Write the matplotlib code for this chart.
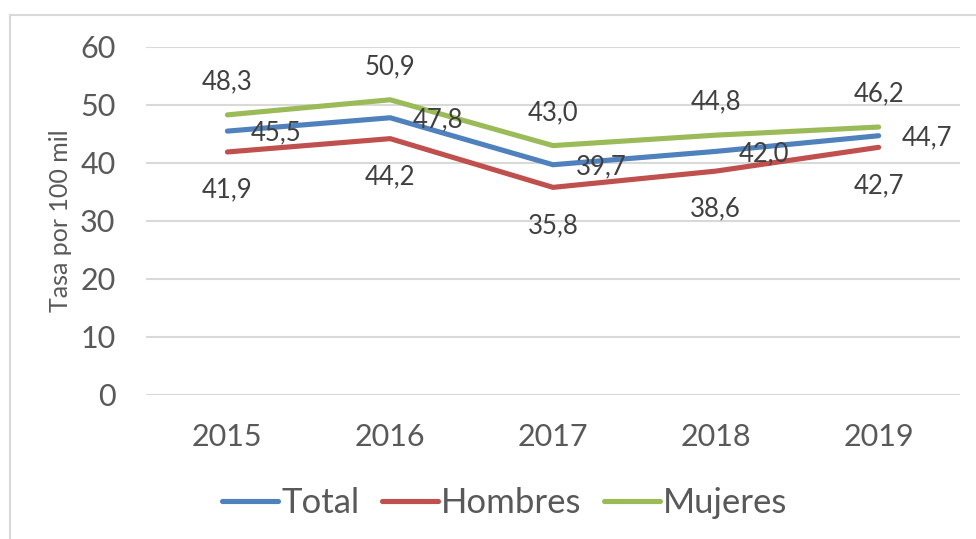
import matplotlib
matplotlib.use("Agg")
import matplotlib.pyplot as plt
from matplotlib.lines import Line2D

years = ["2015", "2016", "2017", "2018", "2019"]
total = [45.5, 47.8, 39.7, 42.0, 44.7]
hombres = [41.9, 44.2, 35.8, 38.6, 42.7]
mujeres = [48.3, 50.9, 43.0, 44.8, 46.2]
y_ticks = [0, 10, 20, 30, 40, 50, 60]

plt.rcParams["font.family"] = ["Lato", "DejaVu Sans"]
text_col = "#595959"
label_col = "#404040"
grid_col = "#D9D9D9"

W, H = 976, 539
fig = plt.figure(figsize=(W / 100, H / 100), dpi=100)

# chart border (only left and top edges visible in the crop)
fig.add_artist(Line2D([10 / W, 10 / W], [0, 1 - 15 / H], transform=fig.transFigure,
                      color=grid_col, lw=1.5))
fig.add_artist(Line2D([10 / W, 1], [1 - 15 / H, 1 - 15 / H], transform=fig.transFigure,
                      color=grid_col, lw=1.5))

ax = fig.add_axes([146 / W, 144 / H, 814 / W, 348 / H])
x = list(range(len(years)))

series = [
    ("Total", total, "#4F81BD", "right"),
    ("Hombres", hombres, "#C0504D", "below"),
    ("Mujeres", mujeres, "#9BBB59", "above"),
]
for name, vals, col, pos in series:
    ax.plot(x, vals, color=col, lw=3.7, solid_capstyle="round",
            solid_joinstyle="round", label=name, zorder=3)
    for xi, v in zip(x, vals):
        txt = f"{v:.1f}".replace(".", ",")
        if pos == "right":
            ax.annotate(txt, (xi, v), xytext=(23, -2), textcoords="offset pixels",
                        ha="left", va="center", fontsize=18.5, color=label_col, zorder=4)
        elif pos == "above":
            ax.annotate(txt, (xi, v), xytext=(0, 33), textcoords="offset pixels",
                        ha="center", va="center", fontsize=18.5, color=label_col, zorder=4)
        else:
            ax.annotate(txt, (xi, v), xytext=(0, -38), textcoords="offset pixels",
                        ha="center", va="center", fontsize=18.5, color=label_col, zorder=4)

ax.set_xlim(-0.5, len(years) - 0.5)
ax.set_ylim(0, 60)
ax.set_yticks(y_ticks)
ax.set_xticks(x)
ax.set_xticklabels(years)
ax.tick_params(axis="y", length=0, pad=22, labelsize=22, labelcolor=text_col)
ax.tick_params(axis="x", length=0, pad=20, labelsize=22, labelcolor=text_col)
ax.grid(axis="y", color=grid_col, lw=1.5, zorder=0)
ax.set_axisbelow(True)
for s in ax.spines.values():
    s.set_visible(False)

ax.set_ylabel("Tasa por 100 mil", fontsize=18, color=text_col)
ax.yaxis.set_label_coords((72 - 146) / 814, 0.5)

handles, labels = ax.get_legend_handles_labels()
fig.legend(handles, labels, loc="center", bbox_to_anchor=(505 / W, 1 - 503 / H),
           ncol=3, frameon=False, fontsize=25, labelcolor=text_col,
           handlelength=1.6, handletextpad=0.1, columnspacing=0.65)

fig.savefig("out.png", dpi=100, facecolor="white")
